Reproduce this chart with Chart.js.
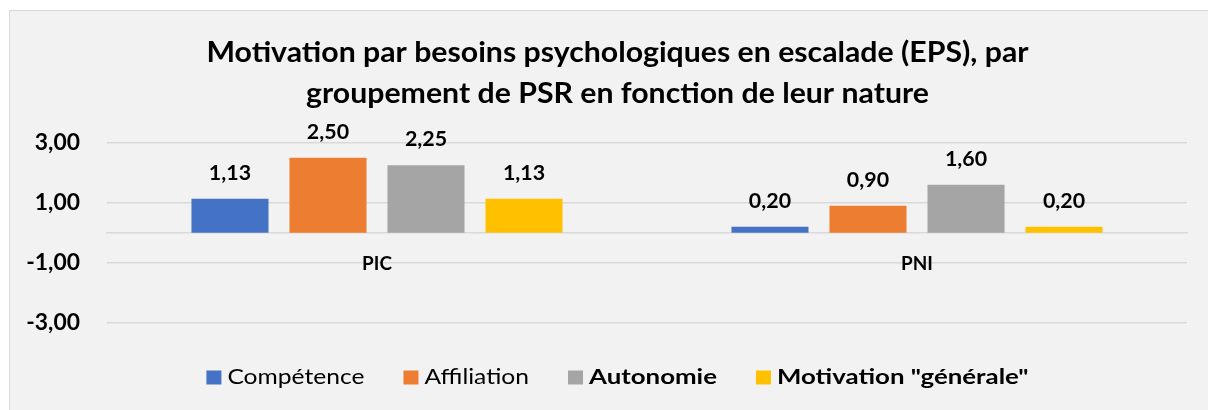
<!DOCTYPE html>
<html><head><meta charset="utf-8">
<script src="https://cdn.jsdelivr.net/npm/chart.js@4.4.1/dist/chart.umd.min.js"></script>
<style>
html,body{margin:0;padding:0;background:#fff;overflow:hidden;width:1208px;height:410px;}
#wrap{position:absolute;left:9px;top:10px;width:1215px;height:400px;background:#F2F2F2;border-left:1px solid #D9D9D9;border-top:1px solid #D9D9D9;}
canvas{display:block;}
</style></head><body>
<div id="wrap"><canvas id="c" width="1215" height="400"></canvas></div>
<script>
const categories = ["PIC", "PNI"];
const seriesNames = ["Compétence", "Affiliation", "Autonomie", "Motivation \"générale\""];
const competence = [1.13, 0.20];
const affiliation = [2.50, 0.90];
const autonomie = [2.25, 1.60];
const motivationGenerale = [1.13, 0.20];
const yTicks = [-3, -1, 1, 3];
const titleLines = ["Motivation par besoins psychologiques en escalade (EPS), par", "groupement de PSR en fonction de leur nature"];

const colors = ["#4472C4", "#ED7D31", "#A5A5A5", "#FFC000"];
const legendBold = [false, false, true, true];
const FONT = "Lato, 'Open Sans', sans-serif";
const fmt = v => v.toFixed(2).replace('.', ',');

const values = [competence, affiliation, autonomie, motivationGenerale];

function sText(ctx, text, x, y, font, align, sx) {
  ctx.save();
  ctx.font = font;
  ctx.textAlign = align;
  ctx.textBaseline = 'middle';
  ctx.translate(x, y);
  ctx.scale(sx, 1);
  ctx.fillText(text, 0, 0);
  ctx.restore();
}
function sWidth(ctx, text, font, sx) {
  ctx.save(); ctx.font = font;
  const w = ctx.measureText(text).width * sx;
  ctx.restore();
  return w;
}

const overlay = {
  id: 'overlay',
  afterDatasetsDraw(chart) {
    const ctx = chart.ctx;
    ctx.save();
    ctx.fillStyle = '#000';
    chart.data.datasets.forEach((ds, i) => {
      const meta = chart.getDatasetMeta(i);
      meta.data.forEach((bar, j) => {
        sText(ctx, fmt(ds.data[j]), bar.x, bar.y - 25.5, "bold 20px " + FONT, 'center', 1.07);
      });
    });
    ctx.restore();
  },
  afterDraw(chart) {
    const ctx = chart.ctx;
    const cx = chart.width / 2;
    const ca = chart.chartArea;
    const ys = chart.scales.y, xs = chart.scales.x;
    ctx.save();
    ctx.fillStyle = '#000';
    // y tick labels
    yTicks.forEach(v => sText(ctx, fmt(v), ca.left - 27, ys.getPixelForValue(v), "bold 22px " + FONT, 'right', 1.04));
    // x tick labels
    const y0 = ys.getPixelForValue(0);
    categories.forEach((c, i) => sText(ctx, c, xs.getPixelForValue(i), y0 + 31, "bold 18px " + FONT, 'center', 1.05));
    // title
    sText(ctx, titleLines[0], cx, 41.5, "bold 28px " + FONT, 'center', 1.08);
    sText(ctx, titleLines[1], cx, 82.5, "bold 28px " + FONT, 'center', 1.08);
    // legend
    const boxW = 15, boxH = 14, gapText = 6, spacing = 39;
    const fonts = legendBold.map(b => (b ? "bold " : "") + "20.5px " + FONT);
    const sxs = legendBold.map(b => b ? 1.26 : 1.2);
    const widths = seriesNames.map((n, i) => boxW + gapText + sWidth(ctx, n, fonts[i], sxs[i]));
    const total = widths.reduce((a, b) => a + b, 0) + spacing * (widths.length - 1);
    let x = cx - total / 2;
    const y = 366.5;
    seriesNames.forEach((n, i) => {
      ctx.fillStyle = colors[i];
      ctx.fillRect(x, y - boxH / 2, boxW, boxH);
      ctx.fillStyle = '#000';
      sText(ctx, n, x + boxW + gapText, y, fonts[i], 'left', sxs[i]);
      x += widths[i] + spacing;
    });
    ctx.restore();
  }
};

new Chart(document.getElementById('c'), {
  type: 'bar',
  data: {
    labels: categories,
    datasets: seriesNames.map((n, i) => ({
      label: n,
      data: values[i],
      backgroundColor: colors[i],
      borderWidth: 0,
      categoryPercentage: 0.726,
      barPercentage: 0.786
    }))
  },
  options: {
    responsive: false,
    animation: false,
    devicePixelRatio: 1,
    layout: { padding: { top: 131.7, bottom: 88.3, left: 10, right: 38 } },
    plugins: { legend: { display: false }, title: { display: false }, tooltip: { enabled: false } },
    scales: {
      y: {
        min: -3, max: 3,
        afterBuildTicks: axis => { axis.ticks = yTicks.map(v => ({ value: v })); },
        afterFit: axis => { axis.width = 87; },
        grid: { color: '#D9D9D9', lineWidth: 1.5, drawTicks: false },
        border: { display: false },
        ticks: { display: false }
      },
      x: {
        position: { y: 0 },
        grid: { display: false, drawTicks: false },
        border: { display: true, color: '#D9D9D9', width: 1.5 },
        ticks: { display: false }
      }
    }
  },
  plugins: [overlay]
});
</script>
</body></html>
